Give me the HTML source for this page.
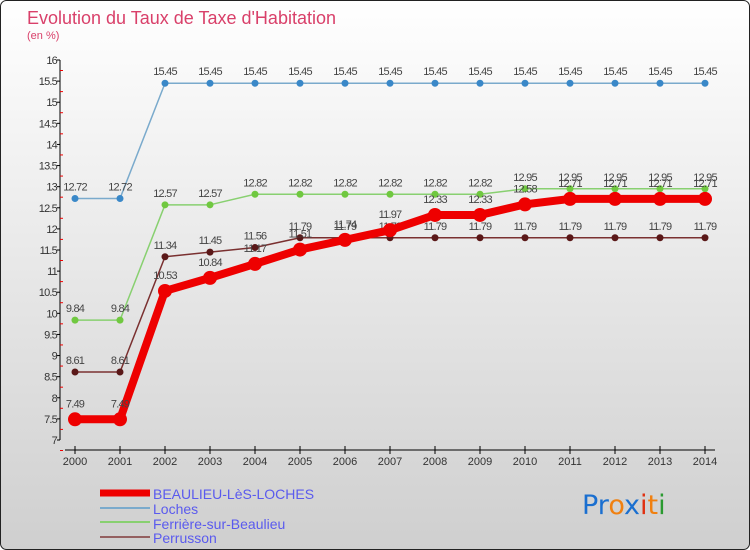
<!DOCTYPE html>
<html><head><meta charset="utf-8"><style>
body{margin:0;width:750px;height:550px;overflow:hidden;font-family:"Liberation Sans",sans-serif}
svg{display:block}
</style></head><body>
<svg id="c" width="750" height="550" xmlns="http://www.w3.org/2000/svg">
<defs><linearGradient id="bg" x1="0" y1="0" x2="0" y2="1"><stop offset="0" stop-color="#ffffff"/><stop offset="1" stop-color="#cfcfcf"/></linearGradient></defs>
<rect x="0.5" y="0.5" width="749" height="549" rx="6" fill="url(#bg)" stroke="#222"/>
<text x="27" y="24" font-size="18" fill="#d9406a">Evolution du Taux de Taxe d'Habitation</text>
<text x="27" y="39" font-size="11" fill="#d9406a">(en %)</text>
<g id="axes"></g><g id="series"></g>
<g font-size="14" fill="#5a5aee">
<line x1="100" y1="493" x2="150" y2="493" stroke="#ee0000" stroke-width="7"/>
<text x="153" y="499">BEAULIEU-LèS-LOCHES</text>
<line x1="100" y1="508" x2="150" y2="508" stroke="#7aaacc" stroke-width="2"/>
<text x="153" y="514">Loches</text>
<line x1="100" y1="522" x2="150" y2="522" stroke="#88d070" stroke-width="2"/>
<text x="153" y="529">Ferrière-sur-Beaulieu</text>
<line x1="100" y1="537" x2="150" y2="537" stroke="#946060" stroke-width="2"/>
<text x="153" y="543">Perrusson</text>
</g>
<g font-size="27" font-family="DejaVu Sans, sans-serif">
<text x="582" y="514"><tspan fill="#1a6fd0">Pr</tspan><tspan fill="#f08010">o</tspan><tspan fill="#1a6fd0">x</tspan><tspan fill="#e03010">i</tspan><tspan fill="#f08010">t</tspan><tspan fill="#2a9a30">i</tspan></text>
</g>
</svg>
<script>
const years=[2000,2001,2002,2003,2004,2005,2006,2007,2008,2009,2010,2011,2012,2013,2014];
const beaulieu=[7.49,7.49,10.53,10.84,11.17,11.51,11.74,11.97,12.33,12.33,12.58,12.71,12.71,12.71,12.71];
const loches=[12.72,12.72,15.45,15.45,15.45,15.45,15.45,15.45,15.45,15.45,15.45,15.45,15.45,15.45,15.45];
const ferriere=[9.84,9.84,12.57,12.57,12.82,12.82,12.82,12.82,12.82,12.82,12.95,12.95,12.95,12.95,12.95];
const perrusson=[8.61,8.61,11.34,11.45,11.56,11.79,11.79,11.79,11.79,11.79,11.79,11.79,11.79,11.79,11.79];
const yTicks=[7,7.5,8,8.5,9,9.5,10,10.5,11,11.5,12,12.5,13,13.5,14,14.5,15,15.5,16];
const NS="http://www.w3.org/2000/svg";
const xs=i=>75+i*45;
const ys=v=>440-(v-7)*380/9;
function mk(t,a,p){const e=document.createElementNS(NS,t);for(const k in a)e.setAttribute(k,a[k]);p.appendChild(e);return e;}
const ax=document.getElementById('axes');
let yl=mk('line',{x1:60,y1:60,x2:60,y2:440,stroke:'#000'},ax);


let xl=mk('line',{x1:65,y1:450,x2:715,y2:450,stroke:'#000'},ax);


yTicks.forEach(v=>{
  const y=ys(v);
  mk('line',{x1:57,y1:y,x2:60,y2:y,stroke:'#000'},ax);
  mk('line',{x1:60,y1:y+10.5,x2:63,y2:y+10.5,stroke:'#e00'},ax);
  const t=mk('text',{x:57,y:y+4,'font-size':11,'text-anchor':'end',fill:'#333','letter-spacing':'-0.8'},ax);
  t.textContent=String(v);
  
  
});
years.forEach((yr,i)=>{
  mk('line',{x1:xs(i),y1:446,x2:xs(i),y2:454,stroke:'#000'},ax);
  const t=mk('text',{x:xs(i),y:465,'font-size':11,'text-anchor':'middle',fill:'#333'},ax);
  t.textContent=yr;
  
  
});
const sg=document.getElementById('series');
function series(name,data,color,dot,w,r){
  const g=mk('g',{},sg);
  
  
  mk('polyline',{points:data.map((v,i)=>xs(i)+','+ys(v)).join(' '),fill:'none',stroke:color,'stroke-width':w,'stroke-linejoin':'round'},g);
  data.forEach((v,i)=>{
    const c=mk('circle',{cx:xs(i),cy:ys(v),r:r,fill:dot},g);
    
    
    const t=mk('text',{x:xs(i),y:ys(v)-8-(r>4?4:0),'font-size':11,'text-anchor':'middle',fill:'#444','letter-spacing':'-0.8'},g);
    t.textContent=String(v);
    
    
  });
}
series('loches',loches,'#7aaacc','#3a88c8',1.5,3.5);
series('ferriere',ferriere,'#88d070','#70c840',1.5,3.5);
series('perrusson',perrusson,'#7a3030','#5a1818',1.5,3.5);
series('beaulieu',beaulieu,'#ee0000','#ee0000',8,7);
</script>
</body></html>
